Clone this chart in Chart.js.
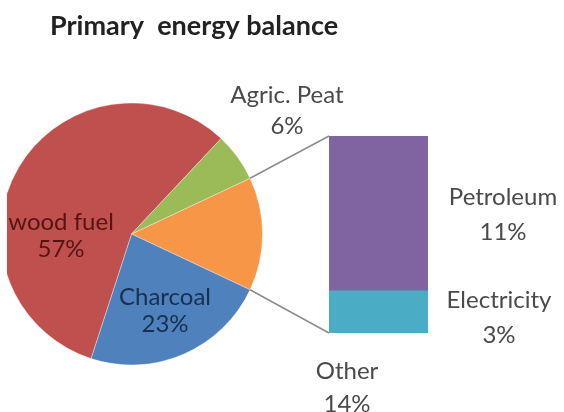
<!DOCTYPE html>
<html>
<head>
<meta charset="utf-8">
<script src="https://cdn.jsdelivr.net/npm/chart.js@4.4.0/dist/chart.umd.min.js"></script>
<style>
  body { margin: 0; background: #fff; }
  #wrap { position: relative; width: 564px; height: 412px; overflow: hidden; }
  #wrap canvas { position: absolute; left: 0; top: 0; }
  /* plot area is cropped a little on the left */
  #pieChart { clip-path: inset(0 0 0 7px); }
</style>
</head>
<body>
<div id="wrap">
  <canvas id="pieChart" width="564" height="412"></canvas>
  <canvas id="barChart" width="564" height="412"></canvas>
</div>
<script>
// pie: main sources, "Other" is split out into the bar
const pieLabels = ['Other', 'Charcoal', 'wood fuel', 'Agric. Peat'];
const pieValues = [14, 23, 57, 6];
const pieColors = ['#F79646', '#4F81BD', '#C0504D', '#9BBB59'];

// bar: breakdown of "Other"
const barLabels = ['Electricity', 'Petroleum'];
const barValues = [3, 11];
const barColors = ['#4BACC6', '#8064A2'];

const title = 'Primary  energy balance';
const font = 'Lato, "Open Sans", sans-serif';

// rotate so the split-out slice sits centred at 3 o'clock
const rotation = 90 - pieValues[0] / pieValues.reduce((a, b) => a + b, 0) * 360 / 2;

const pieChart = new Chart(document.getElementById('pieChart'), {
	type: 'pie',
	data: {
		labels: pieLabels,
		datasets: [{
			data: pieValues,
			backgroundColor: pieColors,
			borderColor: 'rgba(255,255,255,0.35)',
			borderWidth: 1
		}]
	},
	options: {
		responsive: false,
		animation: false,
		rotation: rotation,
		layout: { padding: { left: 0, top: 102, right: 301, bottom: 46 } },
		plugins: { legend: { display: false }, tooltip: { enabled: false } }
	}
});

// label placement (centre x, baseline y), text colour
const labelPos = {
	'wood fuel':   { x: 61,  y: 230, gap: 27, color: '#551412' },
	'Charcoal':    { x: 165, y: 305, gap: 27, color: '#18304f' },
	'Agric. Peat': { x: 287, y: 103, gap: 31, color: '#4a4a4a' },
	'Other':       { x: 347, y: 379, gap: 33, color: '#4a4a4a' },
	'Petroleum':   { x: 503, y: 205, gap: 35, color: '#4a4a4a' },
	'Electricity': { x: 499, y: 308, gap: 35, color: '#4a4a4a' }
};

const overlay = {
	id: 'overlay',
	afterDraw(chart) {
		const ctx = chart.ctx;
		ctx.save();

		// connector lines from the "Other" slice to the bar
		const arc = pieChart.getDatasetMeta(0).data[0];
		const top = chart.getDatasetMeta(1).data[0];
		const bottom = chart.getDatasetMeta(0).data[0];
		const r = arc.outerRadius;
		ctx.strokeStyle = '#8c8c8c';
		ctx.lineWidth = 1.5;
		ctx.beginPath();
		ctx.moveTo(arc.x + r * Math.cos(arc.startAngle), arc.y + r * Math.sin(arc.startAngle));
		ctx.lineTo(top.x - top.width / 2, top.y);
		ctx.moveTo(arc.x + r * Math.cos(arc.endAngle), arc.y + r * Math.sin(arc.endAngle));
		ctx.lineTo(bottom.x - bottom.width / 2, bottom.base);
		ctx.stroke();

		// title
		ctx.fillStyle = '#222';
		ctx.font = 'bold 27px ' + font;
		ctx.textAlign = 'left';
		ctx.textBaseline = 'alphabetic';
		ctx.fillText(title, 50, 35);

		// data labels
		ctx.textAlign = 'center';
		const items = pieLabels.map((l, i) => [l, pieValues[i]])
			.concat(barLabels.map((l, i) => [l, barValues[i]]));
		items.forEach(([name, v]) => {
			const p = labelPos[name];
			ctx.fillStyle = p.color;
			ctx.font = '24px ' + font;
			ctx.fillText(name, p.x, p.y);
			ctx.fillText(v + '%', p.x, p.y + p.gap);
		});
		ctx.restore();
	}
};

new Chart(document.getElementById('barChart'), {
	type: 'bar',
	data: {
		labels: [''],
		datasets: barLabels.map((l, i) => ({
			label: l,
			data: [barValues[i]],
			backgroundColor: barColors[i],
			barPercentage: 1,
			categoryPercentage: 1
		}))
	},
	options: {
		responsive: false,
		animation: false,
		layout: { padding: { left: 329, top: 136, right: 136, bottom: 79 } },
		scales: {
			x: { display: false, stacked: true },
			y: { display: false, stacked: true, min: 0, max: barValues.reduce((a, b) => a + b, 0) }
		},
		plugins: { legend: { display: false }, tooltip: { enabled: false } }
	},
	plugins: [overlay]
});
</script>
</body>
</html>
